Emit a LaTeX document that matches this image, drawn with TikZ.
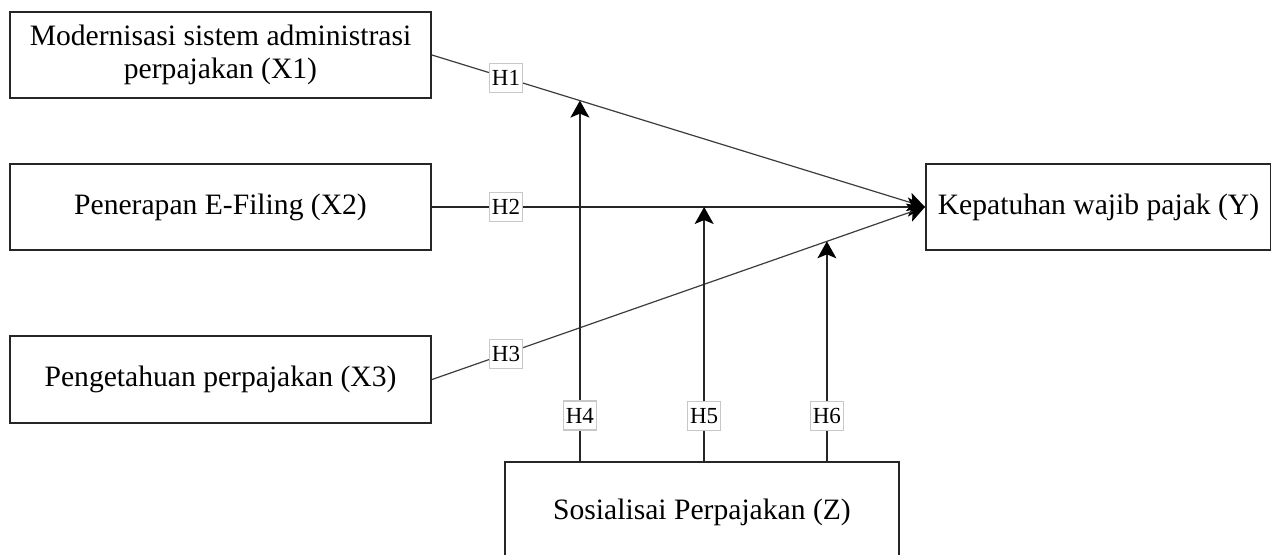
\documentclass[tikz,border=0pt]{standalone}
\usepackage{fontspec}
\setmainfont{Liberation Serif}
\usepackage{tikz}
\usetikzlibrary{arrows.meta, positioning, calc}
\usepackage{xcolor}
\definecolor{hgray}{RGB}{200,200,200}
\definecolor{linegray}{RGB}{60,60,60}

\begin{document}
\begin{tikzpicture}[
    x=0.5pt, y=-0.5pt,
    varbox/.style={rectangle, draw=black!85, fill=white, line width=1pt, align=center, font=\fontsize{14.8}{16.5}\selectfont, minimum height=43pt},
    xbox/.style={varbox, minimum width=210.5pt},
    arrow/.style={-{Stealth[length=8.5pt, width=9.5pt, inset=2pt, black]}, line width=0.7pt, black!85},
    slant/.style={arrow, linegray, line width=0.6pt},
    hlabel/.style={rectangle, draw=hgray, fill=white, font=\fontsize{11.5}{12}\selectfont, inner sep=1.2pt, minimum height=14.5pt, text=black}
]
\useasboundingbox (0,0) rectangle (1271,554);

% Independent variables
\node[xbox] (x1) at (220.5,55) {Modernisasi sistem administrasi\\perpajakan (X1)};
\node[xbox, below=32pt of x1] (x2) {Penerapan E-Filing (X2)};
\node[xbox, below=42pt of x2, minimum height=43.5pt] (x3) {Pengetahuan perpajakan (X3)};

% Dependent and moderating variable
\node[varbox, right=246.5pt of x2, minimum width=172.5pt] (y) {Kepatuhan wajib pajak (Y)};
\node[varbox, minimum width=197pt, minimum height=50pt] (z) at (702,512) {Sosialisai Perpajakan (Z)};

% Direct effects
\draw[slant] (x1.east) -- node[hlabel, pos=0.15] {H1}
    coordinate[pos=0.300] (m4) (y.west);
\draw[arrow] (x2.east) -- node[hlabel, pos=0.15] {H2}
    coordinate[pos=0.552] (m5) (y.west);
\draw[slant] (x3.east) -- node[hlabel, pos=0.15] {H3}
    coordinate[pos=0.801] (m6) (y.west);

% Moderating effects
\draw[arrow] (z.north -| m4) -- node[hlabel, pos=0.126] {H4} (m4);
\draw[arrow] (z.north -| m5) -- node[hlabel, pos=0.177] {H5} (m5);
\draw[arrow] (z.north -| m6) -- node[hlabel, pos=0.204] {H6} (m6);
\end{tikzpicture}
\end{document}
